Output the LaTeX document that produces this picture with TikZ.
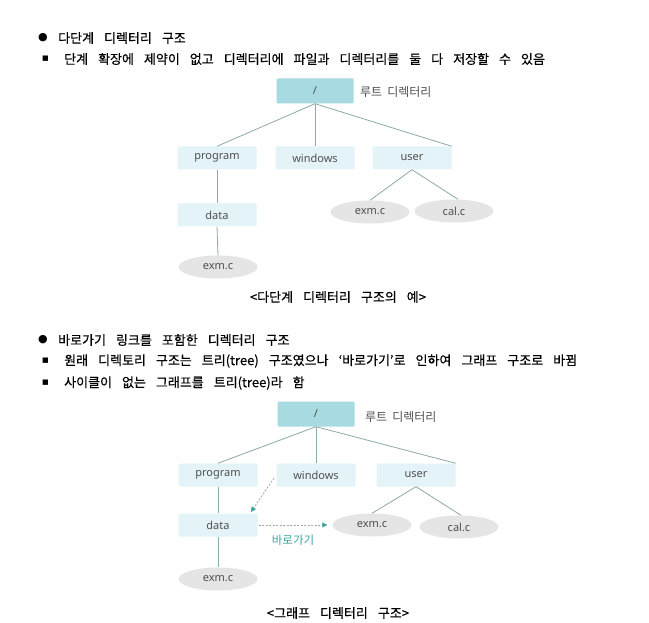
\documentclass[tikz,border=0pt]{standalone}
\usepackage{fontspec}
\setmainfont{Noto Sans CJK KR}[FakeBold=0.4]
\newfontfamily\lblfam{Noto Sans CJK KR}
\newfontfamily\treefont{Noto Sans}
\newfontfamily\symfont{DejaVu Sans}
\usetikzlibrary{arrows.meta,shapes.geometric}
\definecolor{rootfill}{RGB}{168,218,226}
\definecolor{boxfill}{RGB}{227,243,247}
\definecolor{ellfill}{RGB}{229,229,229}
\definecolor{linec}{RGB}{140,170,166}
\definecolor{treetext}{RGB}{80,80,80}
\definecolor{tealc}{RGB}{60,165,160}
\newcommand{\bodyfont}{\fontsize{13}{15}\selectfont\spaceskip=10pt\relax}
\newcommand{\lblfont}{\lblfam\fontsize{12}{13}\selectfont\spaceskip=5pt\relax}
\tikzset{
  x=1pt,y=-1pt,
  body/.style={anchor=west,inner sep=0pt,font=\bodyfont},
  dirbox/.style={rectangle,fill=boxfill,minimum width=79pt,minimum height=23pt,inner sep=0pt,rounded corners=1pt,font=\treefont\fontsize{11}{12}\selectfont,text=treetext},
  rootbox/.style={dirbox,fill=rootfill,minimum width=77pt,minimum height=25pt},
  filell/.style={ellipse,fill=ellfill,minimum width=79pt,minimum height=23pt,inner sep=0pt,font=\treefont\fontsize{11}{12}\selectfont,text=treetext},
  lbl/.style={anchor=west,inner sep=0pt,font=\lblfont,text=treetext},
  edge/.style={draw=linec,line width=0.8pt},
  short/.style={draw=gray!70,dash pattern=on 2pt off 1.5pt,line width=0.8pt,-{Triangle[length=5pt,width=5pt,fill=tealc,color=tealc]}},
  caption/.style={inner sep=0pt,font=\bodyfont},
}
\begin{document}
\begin{tikzpicture}
\useasboundingbox[fill=white] (0,0) rectangle (649,623);
% section 1 text
\node[body] (b1) at (38,38) {\symfont\fontsize{11}{11}\selectfont ●};
\node[body] (t1) at (58,38) {다단계 디렉터리 구조};
\node[body] (b2) at (42,59) {\symfont\fontsize{7}{7}\selectfont ■};
\node[body] (t2) at (64,59) {단계 확장에 제약이 없고 디렉터리에 파일과 디렉터리를 둘 다 저장할 수 있음};
% tree 1
\node[rootbox] (r1) at (315,91) {/};
\node[lbl] (rl1) at (360,92) {루트 디렉터리};
\node[dirbox] (p1) at (217,158) {program};
\node[dirbox] (w1) at (315,158) {windows};
\node[dirbox] (u1) at (412,158) {user};
\node[dirbox] (d1) at (217,215) {data};
\node[filell] (e1) at (218,267) {exm.c};
\node[filell] (e2) at (370,212) {exm.c};
\node[filell] (c1) at (454,211) {cal.c};
\draw[edge] (r1.south) -- (p1.north);
\draw[edge] (r1.south) -- (w1.north);
\draw[edge] (r1.south) -- (u1.north east);
\draw[edge] (u1.south) -- (e2.north);
\draw[edge] (u1.south) -- ([xshift=4pt]c1.north);
\draw[edge] (p1.south) -- (d1.north);
\draw[edge] (d1.south) -- (e1.north);
\node[caption] (cap1) at (338,297) {<다단계 디렉터리 구조의 예>};
% section 2 text
\node[body] (b3) at (38,340) {\symfont\fontsize{11}{11}\selectfont ●};
\node[body] (t3) at (58,340) {바로가기 링크를 포함한 디렉터리 구조};
\node[body] (b4) at (42,361) {\symfont\fontsize{7}{7}\selectfont ■};
\node[body] (t4) at (64,361) {원래 디렉토리 구조는 트리(tree) 구조였으나 ‘바로가기’로 인하여 그래프 구조로 바뀜};
\node[body] (b5) at (42,383) {\symfont\fontsize{7}{7}\selectfont ■};
\node[body] (t5) at (64,383) {사이클이 없는 그래프를 트리(tree)라 함};
% tree 2
\node[rootbox] (r2) at (316,414) {/};
\node[lbl] (rl2) at (365,417) {루트 디렉터리};
\node[dirbox] (p2) at (218,475) {program};
\node[dirbox] (w2) at (316,475) {windows};
\node[dirbox] (u2) at (416,475) {user};
\node[dirbox] (d2) at (218,525) {data};
\node[filell] (e3) at (218,579) {exm.c};
\node[filell] (e4) at (372,525) {exm.c};
\node[filell] (c2) at (459,527) {cal.c};
\draw[edge] (r2.south) -- (p2.north);
\draw[edge] (r2.south) -- (w2.north);
\draw[edge] (r2.south) -- (u2.north east);
\draw[edge] (u2.south) -- (e4.north);
\draw[edge] (u2.south) -- ([xshift=2pt]c2.north);
\draw[edge] (p2.south) -- (d2.north);
\draw[edge] (d2.south) -- (e3.north);
\coordinate (ws) at (274,478);
\coordinate (dt) at (251,512);
\draw[short] (ws) -- (dt);
\draw[short] ([xshift=1pt]d2.east) -- ([xshift=-5pt]e4.west);
\node[inner sep=0pt,font=\lblfam\fontsize{11.5}{12}\selectfont,text=tealc] (sc) at (293,540) {바로가기};
\node[caption] (cap2) at (338,613) {<그래프 디렉터리 구조>};
\end{tikzpicture}
\end{document}
